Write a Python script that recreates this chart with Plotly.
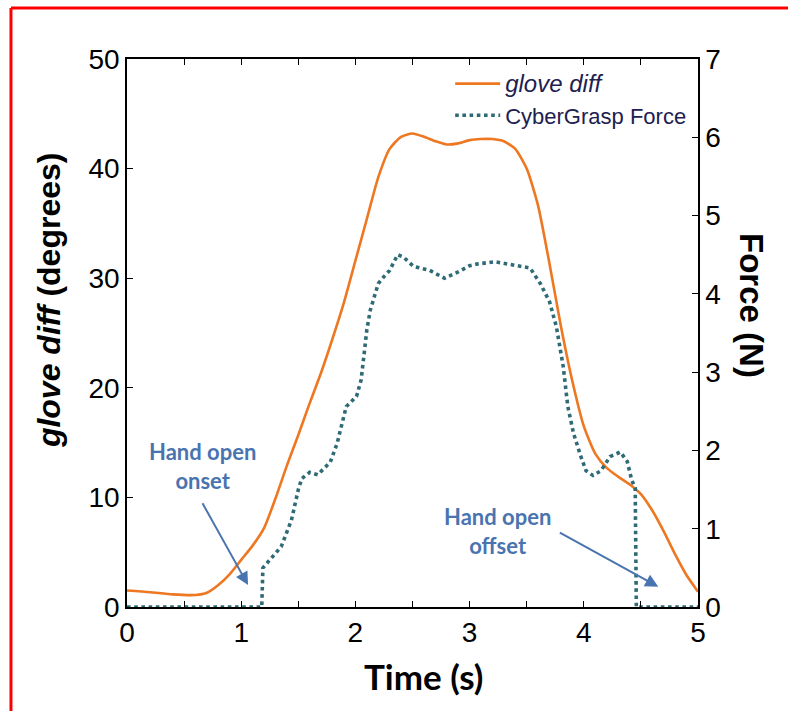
import plotly.graph_objects as go

# ---- data ----
glove_time = [0, 0.2, 0.4, 0.6, 0.7, 0.8, 0.9, 1.0, 1.1, 1.2, 1.3, 1.4, 1.5, 1.6, 1.7, 1.8, 1.9,
              2.0, 2.1, 2.2, 2.3, 2.4, 2.5, 2.6, 2.7, 2.8, 2.9, 3.0, 3.1, 3.2, 3.3, 3.4, 3.5,
              3.6, 3.7, 3.8, 3.9, 4.0, 4.1, 4.2, 4.3, 4.4, 4.5, 4.6, 4.7, 4.8, 4.9, 5.0]
glove_diff = [1.5, 1.35, 1.15, 1.1, 1.3, 2.0, 3.0, 4.3, 5.6, 7.2, 9.9, 12.9, 15.7, 18.6, 21.4, 24.5, 27.8,
              31.6, 35.4, 39.2, 41.8, 42.9, 43.2, 42.9, 42.5, 42.2, 42.3, 42.6, 42.7, 42.7, 42.5, 41.8, 40.0,
              36.6, 31.3, 25.6, 20.6, 16.5, 14.0, 12.7, 11.9, 11.2, 10.3, 8.8, 6.9, 4.8, 2.9, 1.4]

force_time = [0, 1.18, 1.19, 1.25, 1.35, 1.44, 1.50, 1.53, 1.60, 1.67, 1.73, 1.78, 1.84, 1.92, 2.01,
              2.05, 2.08, 2.10, 2.13, 2.17, 2.20, 2.25, 2.30, 2.37, 2.42, 2.51, 2.65, 2.78, 2.90, 3.00,
              3.06, 3.22, 3.38, 3.53, 3.62, 3.70, 3.76, 3.82, 3.86, 3.91, 3.97, 4.02, 4.08, 4.15, 4.23,
              4.32, 4.38, 4.42, 4.45, 4.46, 5.0]
cybergrasp_force = [0, 0, 0.5, 0.6, 0.77, 1.11, 1.50, 1.64, 1.72, 1.69, 1.77, 1.85, 2.09, 2.56, 2.69,
                    2.90, 3.28, 3.54, 3.79, 4.00, 4.13, 4.22, 4.30, 4.50, 4.47, 4.35, 4.30, 4.20, 4.28, 4.36,
                    4.38, 4.41, 4.37, 4.33, 4.13, 3.90, 3.58, 3.07, 2.56, 2.22, 1.94, 1.74, 1.68, 1.74, 1.92,
                    1.98, 1.86, 1.62, 1.52, 0, 0]

x_ticks = [0, 1, 2, 3, 4, 5]
left_ticks = [0, 10, 20, 30, 40, 50]
right_ticks = [0, 1, 2, 3, 4, 5, 6, 7]

ORANGE = "#EE7722"
TEAL = "#2F6B76"
BLUE = "#4A74B0"
TICKFONT = dict(family="Liberation Sans, Arial", size=28, color="black")

fig = go.Figure()
fig.add_trace(go.Scatter(
    x=glove_time, y=glove_diff, mode="lines",
    name="<i><span style='font-size:24px'>glove diff</span></i>",
    line=dict(color=ORANGE, width=2.6, shape="spline", smoothing=0.6),
    yaxis="y"))
fig.add_trace(go.Scatter(
    x=force_time, y=cybergrasp_force, mode="lines",
    name="CyberGrasp Force",
    line=dict(color=TEAL, width=3.6, dash="dot"),
    yaxis="y2"))

axis_common = dict(showline=True, linecolor="black", linewidth=1.5, ticks="inside",
                   ticklen=6, tickwidth=1.3, tickcolor="black", showgrid=False,
                   zeroline=False, tickfont=TICKFONT)

fig.update_layout(
    width=788, height=711,
    margin=dict(l=127, r=90, t=59, b=104),
    paper_bgcolor="white", plot_bgcolor="white",
    xaxis=dict(range=[0, 5], tickvals=x_ticks, mirror="ticks",
               minor=dict(dtick=0.5, ticks="inside", ticklen=6, tickcolor="black", tickwidth=1.3),
               **axis_common),
    yaxis=dict(range=[0, 50], tickvals=left_ticks, **axis_common),
    yaxis2=dict(range=[0, 7], tickvals=right_ticks, overlaying="y", side="right",
                **axis_common),
    legend=dict(x=0.566, y=0.993, xanchor="left", yanchor="top", bgcolor="rgba(0,0,0,0)",
                font=dict(family="Liberation Sans, Arial", size=22, color="#1E2050"),
                itemwidth=45, tracegroupgap=0),
    showlegend=True,
)

annotations = [
    # axis titles
    dict(text="<b><i>glove diff</i> (degrees)</b>", xref="paper", yref="paper",
         x=-0.1366, y=0.560, xanchor="center", yanchor="middle", textangle=-90, showarrow=False,
         font=dict(family="Liberation Sans, Arial", size=32, color="black")),
    dict(text="<b>Force (N)</b>", xref="paper", yref="paper", x=1.0946, y=0.551,
         xanchor="center", yanchor="middle", textangle=90, showarrow=False,
         font=dict(family="Liberation Sans, Arial", size=33, color="black")),
    dict(text="<b>Time (s)</b>", xref="paper", yref="paper", x=0.520, y=-0.126,
         xanchor="center", yanchor="middle", showarrow=False,
         font=dict(family="Lato", size=35, color="black")),
    # onset label + arrow
    dict(text="<b>Hand open<br>onset</b>", x=0.665, y=12.9, xref="x", yref="y",
         showarrow=False, font=dict(family="Lato", size=22, color=BLUE)),
    dict(text="", x=1.06, y=2.0, ax=0.654, ay=9.6, xref="x", yref="y", axref="x", ayref="y",
         showarrow=True, arrowhead=2, arrowsize=1.3, arrowwidth=2, arrowcolor=BLUE),
    # offset label + arrow
    dict(text="<b>Hand open<br>offset</b>", x=3.24, y=6.9, xref="x", yref="y",
         showarrow=False, font=dict(family="Lato", size=22, color=BLUE)),
    dict(text="", x=4.652, y=1.85, ax=3.777, ay=6.87, xref="x", yref="y", axref="x", ayref="y",
         showarrow=True, arrowhead=2, arrowsize=1.3, arrowwidth=2, arrowcolor=BLUE),
]
fig.update_layout(annotations=annotations)

# red frame (left and top edges visible in reference)
fig.add_shape(type="line", xref="paper", yref="paper", x0=-0.2032, x1=-0.2032, y0=-0.3, y1=1.0931,
              line=dict(color="red", width=3))
fig.add_shape(type="line", xref="paper", yref="paper", x0=-0.2032, x1=1.3, y0=1.0931, y1=1.0931,
              line=dict(color="red", width=3))

fig.write_html("out.html")
